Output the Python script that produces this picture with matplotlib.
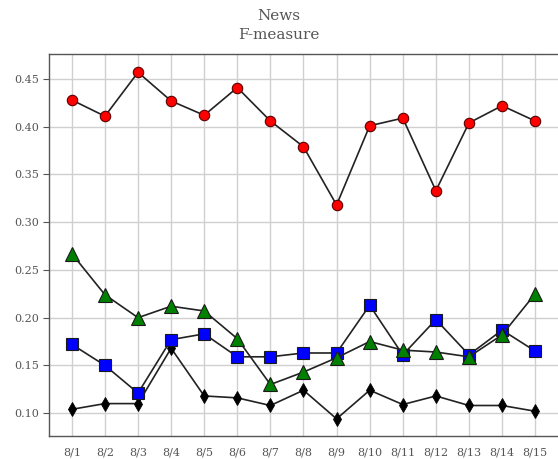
import matplotlib
matplotlib.use('agg')
import matplotlib.pyplot as plt

dates = ['8/1', '8/2', '8/3', '8/4', '8/5', '8/6', '8/7', '8/8',
         '8/9', '8/10', '8/11', '8/12', '8/13', '8/14', '8/15']

red_vals = [0.428, 0.411, 0.457, 0.427, 0.412, 0.441, 0.406, 0.379,
            0.318, 0.401, 0.409, 0.333, 0.404, 0.422, 0.406]
green_vals = [0.267, 0.224, 0.200, 0.212, 0.207, 0.178, 0.130, 0.143,
              0.158, 0.175, 0.166, 0.164, 0.159, 0.182, 0.225]
blue_vals = [0.172, 0.150, 0.121, 0.177, 0.183, 0.159, 0.159, 0.163,
             0.163, 0.213, 0.161, 0.198, 0.161, 0.187, 0.165]
black_vals = [0.104, 0.110, 0.110, 0.168, 0.118, 0.116, 0.108, 0.124,
              0.094, 0.124, 0.109, 0.118, 0.108, 0.108, 0.102]

yticks = [0.10, 0.15, 0.20, 0.25, 0.30, 0.35, 0.40, 0.45]

plt.rcParams['font.family'] = ['DejaVu Serif']
fig = plt.figure(figsize=(5.58, 4.59), dpi=100)
ax = fig.add_axes([0.0878, 0.050, 0.9122, 0.832])

x = list(range(len(dates)))
lc = '#222222'
ax.plot(x, black_vals, color=lc, lw=1.2, marker='d', ms=7,
        mfc='#000000', mec='#000000', mew=0.6, zorder=3)
ax.plot(x, blue_vals, color=lc, lw=1.2, marker='s', ms=9,
        mfc='#0000ff', mec='#1a1a1a', mew=0.8, zorder=4)
ax.plot(x, green_vals, color=lc, lw=1.2, marker='^', ms=9.5,
        mfc='#008000', mec='#1a1a1a', mew=0.8, zorder=5)
ax.plot(x, red_vals, color=lc, lw=1.2, marker='o', ms=7.5,
        mfc='#ff0000', mec='#5a0000', mew=0.8, zorder=6)

ax.set_xlim(-0.69, 14.69)
ax.set_ylim(0.076, 0.476)
ax.set_xticks(x)
ax.set_xticklabels(dates)
ax.set_yticks(yticks)
ax.set_yticklabels(['%.2f' % v for v in yticks])
ax.tick_params(axis='x', length=0, pad=8, labelsize=8, labelcolor='#555555')
ax.tick_params(axis='y', length=4, width=0.8, color='#555555', pad=3,
               labelsize=8, labelcolor='#555555')
ax.grid(True, color='#d0d0d0', lw=1.0)
ax.set_axisbelow(True)
for side in ['left', 'bottom', 'top']:
    ax.spines[side].set_color('#555555')
    ax.spines[side].set_linewidth(1.0)
ax.spines['right'].set_visible(False)

fig.text(0.5, 0.965, 'News', ha='center', va='center', fontsize=11, color='#555555')
fig.text(0.5, 0.923, 'F-measure', ha='center', va='center', fontsize=11, color='#555555')

fig.savefig('out.png', dpi=100)
